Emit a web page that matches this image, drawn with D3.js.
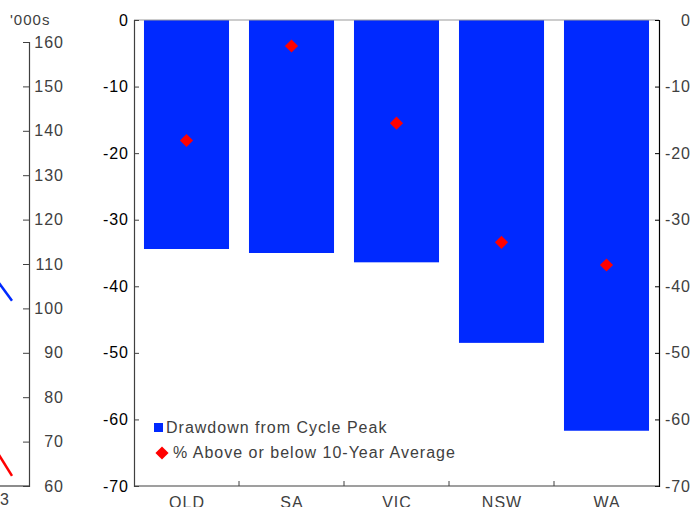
<!DOCTYPE html>
<html>
<head>
<meta charset="utf-8">
<script src="https://cdn.jsdelivr.net/npm/d3@7"></script>
<style>
  body { margin: 0; background: #fff; }
  svg { display: block; font-family: "Liberation Sans", Arial, sans-serif; letter-spacing: 1px; }
</style>
</head>
<body>
<svg id="chart" width="692" height="507"></svg>
<script>
// main panel data
const states = ["QLD", "SA", "VIC", "NSW", "WA"];
const drawdown = [-34.4, -35.0, -36.4, -48.5, -61.7];
const vsAverage = [-18.1, -3.9, -15.5, -33.4, -36.8];
const pctTicks = [0, -10, -20, -30, -40, -50, -60, -70];

// cropped left panel data ('000s)
const leftTicks = [60, 70, 80, 90, 100, 110, 120, 130, 140, 150, 160];
const leftPeriods = [0, 1];
const blueSeries = [105.7, 101.7];
const redSeries = [67.0, 62.3];

const svg = d3.select("#chart");
const blue = "#0029ff", red = "#ff0000", grey = "#404040";
const fs = 16;

// ---- left panel (cut off by the frame) ----
const ly = d3.scaleLinear().domain([60, 160]).range([486, 42]);
const lx = d3.scaleLinear().domain([0, 1]).range([-1, 12]);

svg.append("line").attr("x1", 0).attr("x2", 29).attr("y1", 486).attr("y2", 486)
  .attr("stroke", grey).attr("stroke-width", 1.2);

const la = svg.append("g").attr("transform", "translate(29,0)")
  .call(d3.axisLeft(ly).tickValues(leftTicks).tickSize(6).tickFormat(""));
la.select(".domain").attr("stroke", grey).attr("stroke-width", 1.2);
la.selectAll(".tick line").attr("stroke", grey);

svg.append("g").selectAll("text").data(leftTicks).join("text")
  .attr("x", 64).attr("y", d => ly(d)).attr("dy", "0.35em")
  .attr("text-anchor", "end").attr("font-size", fs).attr("fill", grey)
  .text(d => d);

svg.append("text").attr("x", 10).attr("y", 25).attr("font-size", 15)
  .attr("fill", grey).text("'000s");
svg.append("text").attr("x", 10).attr("y", 505).attr("text-anchor", "end")
  .attr("font-size", fs).attr("fill", grey).text("2023");

const line = d3.line().x((d, i) => lx(leftPeriods[i])).y(d => ly(d));
svg.append("path").datum(blueSeries).attr("d", line)
  .attr("fill", "none").attr("stroke", blue).attr("stroke-width", 2.5);
svg.append("path").datum(redSeries).attr("d", line)
  .attr("fill", "none").attr("stroke", red).attr("stroke-width", 2.5);

// ---- main panel ----
const x = d3.scaleBand().domain(states).range([134, 659]).paddingInner(0.19).paddingOuter(0.095);
const y = d3.scaleLinear().domain([-70, 0]).range([486, 20]);

svg.append("g").selectAll("rect").data(states).join("rect")
  .attr("x", d => x(d))
  .attr("width", x.bandwidth())
  .attr("y", y(0))
  .attr("height", (d, i) => y(drawdown[i]) - y(0))
  .attr("fill", blue);

// top frame line
svg.append("line").attr("x1", 134).attr("x2", 659).attr("y1", 20).attr("y2", 20)
  .attr("stroke", "#999").attr("stroke-width", 1);

const diamond = d3.symbol().type(d3.symbolDiamond2).size(110);
svg.append("g").selectAll("path").data(states).join("path")
  .attr("transform", (d, i) => `translate(${x(d) + x.bandwidth() / 2},${y(vsAverage[i])})`)
  .attr("d", diamond)
  .attr("fill", red);

// left axis
const ya = svg.append("g").attr("transform", "translate(134,0)")
  .call(d3.axisRight(y).tickValues(pctTicks).tickSize(5).tickFormat(""));
ya.select(".domain").attr("stroke", grey).attr("stroke-width", 1.2);
ya.selectAll(".tick line").attr("stroke", grey);
svg.append("g").selectAll("text").data(pctTicks).join("text")
  .attr("x", 129).attr("y", d => y(d)).attr("dy", "0.35em")
  .attr("text-anchor", "end").attr("font-size", fs).attr("fill", "#000")
  .text(d => d);

// right axis
const yr = svg.append("g").attr("transform", "translate(659,0)")
  .call(d3.axisLeft(y).tickValues(pctTicks).tickSize(4).tickFormat(""));
yr.select(".domain").attr("stroke", "#000").attr("stroke-width", 1.2);
yr.selectAll(".tick line").attr("stroke", "#000");
svg.append("g").selectAll("text").data(pctTicks).join("text")
  .attr("x", 691).attr("y", d => y(d)).attr("dy", "0.35em")
  .attr("text-anchor", "end").attr("font-size", fs).attr("fill", grey)
  .text(d => d);

// bottom axis with ticks between categories
svg.append("line").attr("x1", 134).attr("x2", 659).attr("y1", 486).attr("y2", 486)
  .attr("stroke", grey).attr("stroke-width", 1.2);
const step = x.step();
svg.append("g").selectAll("line").data(states.slice(1)).join("line")
  .attr("x1", d => x(d) - (step - x.bandwidth()) / 2)
  .attr("x2", d => x(d) - (step - x.bandwidth()) / 2)
  .attr("y1", 486).attr("y2", 481)
  .attr("stroke", grey);
svg.append("g").selectAll("text").data(states).join("text")
  .attr("x", d => x(d) + x.bandwidth() / 2 + 0.5).attr("y", 508)
  .attr("text-anchor", "middle").attr("font-size", fs).attr("fill", grey)
  .text(d => d);

// legend
const lg = svg.append("g");
lg.append("rect").attr("x", 154).attr("y", 423).attr("width", 9).attr("height", 9).attr("fill", blue);
lg.append("text").attr("x", 166).attr("y", 433).attr("font-size", fs).attr("fill", grey)
  .text("Drawdown from Cycle Peak");
lg.append("path").attr("transform", "translate(162,453)")
  .attr("d", d3.symbol().type(d3.symbolDiamond2).size(110)).attr("fill", red);
lg.append("text").attr("x", 173).attr("y", 458).attr("font-size", fs).attr("fill", grey)
  .text("% Above or below 10-Year Average");
</script>
</body>
</html>
